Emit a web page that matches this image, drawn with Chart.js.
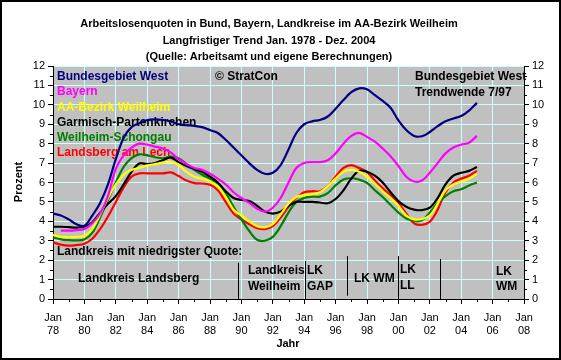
<!DOCTYPE html>
<html>
<head>
<meta charset="utf-8">
<title>Arbeitslosenquoten</title>
<script src="https://cdn.jsdelivr.net/npm/chart.js@4.4.0/dist/chart.umd.min.js"></script>
<style>
  html,body{margin:0;padding:0;background:#fff;}
</style>
</head>
<body>
<canvas id="chart" width="561" height="360"></canvas>
<script>
// x in years since 1900, half-year steps (78 = Jan 1978)
var years = [78,78.5,79,79.5,80,80.5,81,81.5,82,82.5,83,83.5,84,84.5,85,85.5,86,86.5,87,87.5,
  88,88.5,89,89.5,90,90.5,91,91.5,92,92.5,93,93.5,94,94.5,95,95.5,96,96.5,97,97.5,
  98,98.5,99,99.5,100,100.5,101,101.5,102,102.5,103,103.5,104,104.5,105]

var bundWest = [4.4,4.3,4.1,3.85,3.77,4.3,4.95,5.9,7.2,8.3,8.85,9.05,9.22,9.25,9.22,9.15,9.0,8.95,8.92,8.85,
  8.7,8.55,8.2,7.8,7.4,7.0,6.65,6.45,6.5,6.9,7.7,8.55,9.0,9.15,9.22,9.4,9.8,10.25,10.65,10.85,
  10.8,10.5,10.2,9.85,9.2,8.7,8.4,8.38,8.6,8.9,9.15,9.3,9.42,9.7,10.1]
var bayern = [null,3.52,3.52,3.55,3.6,3.9,4.4,5.3,6.7,7.4,7.8,8.0,7.95,7.85,7.75,7.55,7.2,6.95,6.75,6.65,
  6.45,6.2,5.9,5.5,5.2,4.95,4.65,4.5,4.7,5.2,6.0,6.75,7.0,7.05,7.05,7.15,7.5,8.0,8.4,8.56,
  8.35,8.1,7.75,7.35,6.85,6.3,6.05,6.1,6.5,7.0,7.5,7.8,7.95,8.05,8.4]
var aaWeilheim = [3.3,3.2,3.18,3.2,3.25,3.6,4.35,5.2,5.9,6.4,6.65,6.75,6.88,6.95,7.02,7.07,6.9,6.55,6.3,6.2,
  6.05,5.8,5.25,4.6,4.3,4.0,3.75,3.69,3.85,4.35,4.9,5.25,5.35,5.4,5.5,5.8,6.2,6.55,6.65,6.55,
  6.3,5.95,5.55,5.2,4.8,4.3,4.1,4.12,4.3,4.9,5.6,5.9,6.05,6.2,6.45]
var garmisch = [3.72,3.72,3.7,3.68,3.72,3.95,4.45,4.9,5.3,5.9,6.55,6.98,6.95,7.0,7.15,7.28,7.05,6.85,6.7,6.55,
  6.3,6.0,5.55,5.2,5.1,5.05,4.8,4.5,4.4,4.5,4.8,5.0,5.0,5.0,4.97,4.93,5.15,5.6,6.2,6.6,
  6.55,6.35,6.0,5.5,5.05,4.75,4.6,4.58,4.7,5.2,5.9,6.35,6.5,6.6,6.8]
var weilheimSchongau = [3.18,3.07,3.03,3.02,3.07,3.4,4.2,5.1,6.0,6.8,7.25,7.45,7.4,7.3,7.25,7.33,7.25,6.95,6.65,6.4,
  6.2,5.95,5.45,4.75,4.1,3.5,3.05,3.0,3.2,3.75,4.45,5.0,5.2,5.27,5.27,5.45,5.85,6.15,6.22,6.15,
  5.98,5.6,5.25,4.85,4.45,4.15,4.03,4.05,4.45,4.95,5.3,5.55,5.65,5.85,6.0]
var landsberg = [2.92,2.8,2.75,2.78,2.85,3.1,3.6,4.25,5.0,5.75,6.3,6.47,6.47,6.47,6.47,6.52,6.33,6.1,5.97,5.95,
  5.88,5.6,5.0,4.4,4.1,3.85,3.65,3.6,3.75,4.2,4.75,5.2,5.5,5.55,5.55,5.8,6.3,6.75,6.9,6.75,
  6.55,6.1,5.7,5.35,4.95,4.4,3.9,3.82,3.98,4.6,5.5,6.0,6.2,6.35,6.6]

var names = ["Bundesgebiet West","Bayern","AA-Bezirk Weilheim","Garmisch-Partenkirchen","Weilheim-Schongau","Landsberg am Lech"]
var colors = ["#000080","#ff00ff","#ffff00","#000000","#008000","#ff0000"]
var series = [bundWest,bayern,aaWeilheim,garmisch,weilheimSchongau,landsberg]

// district with the lowest rate: borders (years)
var lowBorders = [89.77,94.05,96.7,100.0,102.68]

function pts(vals){
  var out = []
  for(var i=0;i<years.length;i++){
    if(vals[i] != null) out.push({x: years[i], y: vals[i]})
  }
  return out
}

var FONT = "'Liberation Sans', Arial, sans-serif"

var extras = {
  id: 'extras',
  beforeDraw: function(chart){
    var c = chart.ctx, a = chart.chartArea
    c.save()
    c.fillStyle = "#ffffff"
    c.fillRect(0,0,chart.width,chart.height)
    c.fillStyle = "#c0c0c0"
    c.fillRect(a.left,a.top,a.right-a.left,a.bottom-a.top)
    c.restore()
  },
  beforeDatasetsDraw: function(chart){
    var c = chart.ctx, xs = chart.scales.x, ys = chart.scales.y
    c.save()
    c.textBaseline = "middle"
    c.textAlign = "left"
    c.font = "bold 12px " + FONT
    // colored legend texts
    for(var i=0;i<names.length;i++){
      c.fillStyle = colors[i]
      c.fillText(names[i], 57, 77 + i*15.1)
    }
    c.fillStyle = "#000"
    c.fillText("\u00a9 StratCon", 215, 77)
    c.fillText("Bundesgebiet West", 415, 77)
    c.fillText("Trendwende 7/97", 415, 93)
    c.fillText("Landkreis mit niedrigster Quote:", 57, 252)
    c.fillText("Landkreis Landsberg", 78, 279)
    c.fillText("Landkreis", 248, 271)
    c.fillText("Weilheim", 248, 287)
    c.fillText("LK", 307, 271)
    c.fillText("GAP", 307, 287)
    c.fillText("LK WM", 354, 279)
    c.fillText("LK", 400, 270)
    c.fillText("LL", 400, 286)
    c.fillText("LK", 496, 272)
    c.fillText("WM", 496, 287)
    // separators
    var tops = [1.87,1.96,2.21,2.21,2.06]
    var bots = [0,0,0.17,0,0]
    c.strokeStyle = "#000"
    c.lineWidth = 1
    for(var k=0;k<lowBorders.length;k++){
      var px = Math.round(xs.getPixelForValue(lowBorders[k])) + 0.5
      c.beginPath()
      c.moveTo(px, ys.getPixelForValue(tops[k]))
      c.lineTo(px, ys.getPixelForValue(bots[k]))
      c.stroke()
    }
    c.restore()
  },
  afterDraw: function(chart){
    var c = chart.ctx, a = chart.chartArea, xs = chart.scales.x, ys = chart.scales.y
    c.save()
    c.strokeStyle = "#000"
    c.lineWidth = 1
    // minor ticks
    c.beginPath()
    for(var v=0.5; v<12; v+=1){
      var py = Math.round(ys.getPixelForValue(v)) + 0.5
      c.moveTo(a.left-3, py); c.lineTo(a.left, py)
      c.moveTo(a.right, py); c.lineTo(a.right+3, py)
    }
    for(var yr=79; yr<108; yr+=2){
      var px = Math.round(xs.getPixelForValue(yr)) + 0.5
      c.moveTo(px, a.bottom); c.lineTo(px, a.bottom+3)
    }
    c.stroke()
    // titles
    c.fillStyle = "#000"
    c.textAlign = "center"
    c.textBaseline = "middle"
    c.font = "bold 11px " + FONT
    c.fillText("Arbeitslosenquoten in Bund, Bayern, Landkreise im AA-Bezirk Weilheim", 269, 24)
    c.fillText("Langfristiger Trend Jan. 1978 - Dez. 2004", 269, 41)
    c.fillText("(Quelle: Arbeitsamt und eigene Berechnungen)", 269, 57)
    c.fillText("Jahr", 288, 344)
    c.translate(19, 182)
    c.rotate(-Math.PI/2)
    c.fillText("Prozent", 0, 0)
    c.restore()
    // outer frame
    c.save()
    c.strokeStyle = "#000"
    c.lineWidth = 2
    c.strokeRect(1,1,chart.width-2,chart.height-2)
    c.restore()
  }
}

var datasets = []
for(var i=0;i<series.length;i++){
  datasets.push({
    label: names[i],
    data: pts(series[i]),
    borderColor: colors[i],
    backgroundColor: colors[i],
    borderWidth: 2.2,
    pointRadius: 0,
    tension: 0.35,
    fill: false
  })
}

var gridCyan = "#ccffff"

var chart = new Chart(document.getElementById("chart").getContext("2d"), {
  type: "line",
  data: { datasets: datasets },
  options: {
    responsive: false,
    animation: false,
    devicePixelRatio: 1,
    layout: { padding: { top: 66, left: 0, right: 0, bottom: 0 } },
    plugins: { legend: { display: false }, tooltip: { enabled: false }, title: { display: false } },
    scales: {
      x: {
        type: "linear",
        min: 78, max: 108,
        afterFit: function(s){ s.height = 61 },
        ticks: {
          stepSize: 2,
          color: "#000",
          font: { family: FONT, size: 11 },
          padding: 7,
          maxRotation: 0,
          autoSkip: false,
          callback: function(v){ var yy = v % 100; return ["Jan", (yy < 10 ? "0" : "") + yy] }
        },
        grid: {
          color: function(ctx){ return (ctx.tick && (ctx.tick.value == 78 || ctx.tick.value == 108)) ? "rgba(0,0,0,0)" : gridCyan },
          tickColor: "#000",
          tickLength: 5,
          lineWidth: 1
        },
        border: { color: "#000", width: 1 }
      },
      y: {
        type: "linear",
        position: "left",
        min: 0, max: 12,
        afterFit: function(s){ s.width = 53 },
        ticks: { stepSize: 1, color: "#000", font: { family: FONT, size: 11 }, padding: 3 },
        grid: {
          color: function(ctx){ return (ctx.tick && ctx.tick.value == 0) ? "rgba(0,0,0,0)" : gridCyan },
          tickColor: "#000",
          tickLength: 5,
          lineWidth: 1
        },
        border: { color: "#000", width: 1 }
      },
      y2: {
        type: "linear",
        position: "right",
        min: 0, max: 12,
        afterFit: function(s){ s.width = 37 },
        ticks: { stepSize: 1, color: "#000", font: { family: FONT, size: 11 }, padding: 3 },
        grid: { drawOnChartArea: false, tickColor: "#000", tickLength: 5 },
        border: { color: "#000", width: 1 }
      }
    }
  },
  plugins: [extras]
})
</script>
</body>
</html>
